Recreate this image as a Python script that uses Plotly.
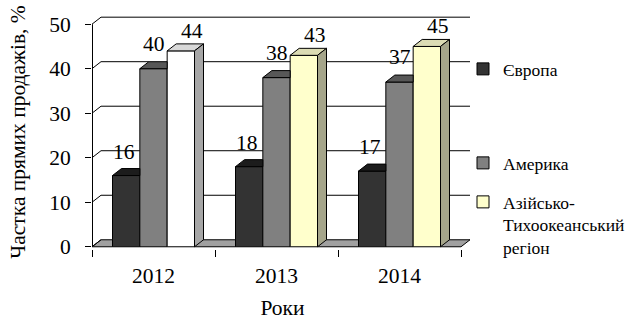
import plotly.graph_objects as go

# ---------------- data ----------------
years = ["2012", "2013", "2014"]
europe = [16, 18, 17]
america = [40, 38, 37]
asia = [44, 43, 45]
series_names = ["Європа", "Америка", "Азійсько-<br>Тихоокеанський<br>регіон"]
y_tick_values = [0, 10, 20, 30, 40, 50]
y_title = "Частка прямих продажів, %"
x_title = "Роки"

# ---------------- style / geometry ----------------
FONT = "Liberation Serif, serif"
W, H = 627, 320
ML, MR, MT, MB = 92, 154, 15, 71.1
CAT_PX = 123.0          # pixels per category
UNIT_PX = 4.45          # pixels per value unit
DEPTH_X_PX, DEPTH_Y_PX = 9, 7

plot_w = W - ML - MR
plot_h = H - MT - MB
X_MIN = -0.5
X_MAX = X_MIN + plot_w / CAT_PX
Y_MIN = -0.5
Y_MAX = Y_MIN + plot_h / UNIT_PX
DX = DEPTH_X_PX / CAT_PX
DY = DEPTH_Y_PX / UNIT_PX
K = DY / DX
BW = 2.0 / 9.0
n_cat = len(years)
cats = list(range(n_cat))
x0, x1 = -0.5, n_cat - 0.5

series = [europe, america, asia]
styles = [
    dict(front=["#333333"] * 3, top=["#1c1c1c"] * 3, side=["#1a1a1a"] * 3),
    dict(front=["#808080"] * 3, top=["#575757"] * 3, side=["#666666"] * 3),
    dict(front=["#ffffff", "#ffffcc", "#ffffcc"],
         top=["#d9d9d9", "#dcdcb4", "#dcdcb4"],
         side=["#a6a6a6", "#a5a58a", "#a5a58a"]),
]
legend_ids = ["legend", "legend2", "legend3"]
legend_top_px = [51, 145, 184]
label_xshift = [-2, 0, 11]
label_yshift = [24, 25, 20]
FLOOR = "#a0a0a0"


def clip(poly, a, b, c):
    """keep a*x + b*y <= c (Sutherland-Hodgman)"""
    out = []
    n = len(poly)
    for k in range(n):
        p, q = poly[k], poly[(k + 1) % n]
        fp = a * p[0] + b * p[1] - c
        fq = a * q[0] + b * q[1] - c
        if fp <= 0:
            out.append(p)
        if (fp < 0 < fq) or (fq < 0 < fp):
            t = fp / (fp - fq)
            out.append((p[0] + t * (q[0] - p[0]), p[1] + t * (q[1] - p[1])))
    return out


def area(poly):
    s = 0
    for k in range(len(poly)):
        p, q = poly[k], poly[(k + 1) % len(poly)]
        s += p[0] * q[1] - q[0] * p[1]
    return abs(s) / 2


def poly_trace(poly, color, lw=1):
    xs = [p[0] for p in poly] + [poly[0][0]]
    ys = [p[1] for p in poly] + [poly[0][1]]
    return go.Scatter(x=xs, y=ys, mode="lines", fill="toself", fillcolor=color,
                      line=dict(color="black", width=lw), hoverinfo="skip",
                      showlegend=False)


fig = go.Figure()

# front faces (bars)
for j, vals in enumerate(series):
    if len(set(styles[j]["front"])) == 1:
        marker = dict(color=styles[j]["front"][0], line=dict(color="black", width=1))
    else:
        uniq = styles[j]["front"]
        marker = dict(color=[0 if c == uniq[0] else 1 for c in uniq],
                      colorscale=[[0, uniq[0]], [0.49, uniq[0]], [0.5, uniq[1]], [1, uniq[1]]],
                      cmin=0, cmax=1, showscale=False,
                      line=dict(color="black", width=1))
    fig.add_trace(go.Bar(x=cats, y=vals, width=BW, offset=(j - 1.5) * BW,
                         name=series_names[j], marker=marker,
                         legend=legend_ids[j], hoverinfo="skip"))

# floor pieces between groups
floor = [(x0, 0), (x1, 0), (x1 + DX, DY), (x0 + DX, DY)]
bounds = [x0]
for i in cats:
    bounds += [i - 1.5 * BW, i + 1.5 * BW]
bounds.append(x1 + DX)
for k in range(0, len(bounds), 2):
    a, b = bounds[k], bounds[k + 1]
    piece = clip(clip(floor, -1, 0, -a), 1, 0, b)
    if len(piece) >= 3 and area(piece) > 1e-9:
        fig.add_trace(poly_trace(piece, FLOOR))

# back-wall gridlines with left-wall diagonals
gx, gy = [], []
for g in y_tick_values:
    gx += [x0, x0 + DX, None]
    gy += [g, g + DY, None]
    if g == 0:
        continue
    L = g + DY
    covers = []
    for i in cats:
        for j, vals in enumerate(series):
            v = vals[i]
            xl = i + (j - 1.5) * BW
            xr = xl + BW
            if L <= v:
                covers.append((xl, xr + DX))
            elif L <= v + DY:
                covers.append((xl + (L - v) / K, xr + DX))
    covers.sort()
    cur = x0 + DX
    segs = []
    for a, b in covers:
        if a > cur:
            segs.append((cur, a))
        cur = max(cur, b)
    if cur < x1 + DX:
        segs.append((cur, x1 + DX))
    for a, b in segs:
        gx += [a, b, None]
        gy += [L, L, None]
fig.add_trace(go.Scatter(x=gx, y=gy, mode="lines", line=dict(color="black", width=1),
                         hoverinfo="skip", showlegend=False))

# top and side faces
for i in cats:
    for j, vals in enumerate(series):
        v = vals[i]
        xl = i + (j - 1.5) * BW
        xr = xl + BW
        top = [(xl, v), (xr, v), (xr + DX, v + DY), (xl + DX, v + DY)]
        side = [(xr, 0), (xr + DX, DY), (xr + DX, v + DY), (xr, v)]
        for face, col in ((top, styles[j]["top"][i]), (side, styles[j]["side"][i])):
            if j < len(series) - 1:
                vn = series[j + 1][i]
                pieces = [clip(face, 1, 0, xr),
                          clip(clip(face, -1, 0, -xr), K, -1, K * xr - vn)]
            else:
                pieces = [face]
            for pc in pieces:
                if len(pc) >= 3 and area(pc) > 1e-9:
                    fig.add_trace(poly_trace(pc, col))

# front value axis line
fig.add_trace(go.Scatter(x=[x0, x0], y=[0, max(y_tick_values)], mode="lines",
                         line=dict(color="black", width=2), hoverinfo="skip",
                         showlegend=False))

# data labels
for j, vals in enumerate(series):
    for i in cats:
        fig.add_annotation(x=i + (j - 1) * BW, y=vals[i], text=str(vals[i]),
                           showarrow=False, xshift=label_xshift[j], yshift=label_yshift[j],
                           yanchor="middle", font=dict(family=FONT, size=21.5, color="black"))


def legend_cfg(top_px):
    return dict(x=463 / W, y=1 - top_px / H, xref="container", yref="container",
                xanchor="left", yanchor="top",
                font=dict(family=FONT, size=17.5, color="black"),
                bgcolor="rgba(0,0,0,0)", borderwidth=0, valign="top", itemwidth=30)


fig.update_layout(
    template="none",
    width=W, height=H,
    margin=dict(l=ML, r=MR, t=MT, b=MB, pad=0, autoexpand=False),
    paper_bgcolor="white", plot_bgcolor="white",
    barmode="overlay",
    font=dict(family=FONT, size=17.5, color="black"),
    legend=legend_cfg(legend_top_px[0]),
    legend2=legend_cfg(legend_top_px[1]),
    legend3=legend_cfg(legend_top_px[2]),
    xaxis=dict(range=[X_MIN, X_MAX], tickmode="array", tickvals=cats, ticktext=years,
               ticks="", showgrid=False, zeroline=False, showline=False, automargin=False,
               tickfont=dict(family=FONT, size=21.5, color="black"),
               ticklabelstandoff=11,
               minor=dict(tickmode="array", tickvals=[c - 0.5 for c in cats] + [x1],
                          ticks="outside", ticklen=7, tickwidth=1, tickcolor="black",
                          showgrid=False),
               title=dict(text=x_title, font=dict(family=FONT, size=21.5, color="black"),
                          standoff=20)),
    yaxis=dict(range=[Y_MIN, Y_MAX], tickmode="array", tickvals=y_tick_values,
               ticks="outside", ticklen=6, tickwidth=1, tickcolor="black",
               showgrid=False, zeroline=False, showline=False, automargin=False,
               tickfont=dict(family=FONT, size=21.5, color="black"),
               ticklabelstandoff=10,
               title=dict(text=y_title, font=dict(family=FONT, size=21.5, color="black"),
                          standoff=17)),
)

fig.write_html("out.html")
